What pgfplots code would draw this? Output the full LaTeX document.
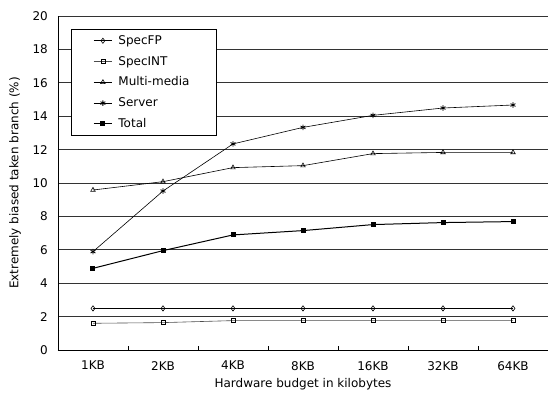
\documentclass[border=0pt]{standalone}
\usepackage{fontspec}
\setmainfont{DejaVu Sans}
\usepackage{pgfplots}
\pgfplotsset{compat=1.18}
\begin{document}
\fontsize{12}{14}\selectfont
\begin{tikzpicture}
\begin{axis}[name=ax, scale only axis, width=490pt, height=334pt,
  xmin=-0.5, xmax=6.5, ymin=0, ymax=20,
  axis x line*=bottom, axis y line*=left,
  axis line style={line width=0.8pt},
  xtick={0.5,1.5,2.5,3.5,4.5,5.5}, xticklabels={},
  x tick style={line width=0.6pt, black},
  major tick length=4pt, tick align=inside,
  extra x ticks={0,1,2,3,4,5,6},
  extra x tick labels={1KB,2KB,4KB,8KB,16KB,32KB,64KB},
  extra x tick style={major tick length=0pt, grid=none, xticklabel style={yshift=-7pt}},
  ytick={0,2,...,20},
  y tick style={draw=none},
  yticklabel style={xshift=-6pt},
  ymajorgrids, grid style={black!80, line width=0.6pt},
  /pgf/number format/assume math mode=true,
  tick label style={font=\fontsize{12}{14}\selectfont},
  xlabel={Hardware budget in kilobytes},
  ylabel={Extremely biased taken branch (\%)},
  every axis x label/.style={at={([yshift=-34pt]axis description cs:0.5,0)}, anchor=center},
  every axis y label/.style={at={([xshift=-43pt]axis description cs:0,0.5)}, anchor=center, rotate=90},
  label style={font=\fontsize{12}{14}\selectfont},
  legend style={at={([xshift=13pt,yshift=-13pt]axis description cs:0,1)}, anchor=north west,
    draw=black, line width=0.8pt, fill=white, inner xsep=22pt, inner ysep=4pt,
    row sep=6pt, column sep=4pt, font=\fontsize{12}{14}\selectfont},
  legend cell align=left,
  legend image code/.code={\draw[#1] (0pt,0pt) -- (18pt,0pt);
    \draw[mark repeat=2, mark phase=2, #1] plot coordinates {(0pt,0pt)(9pt,0pt)(18pt,0pt)};},
  every axis plot/.append style={line width=0.6pt, black},
]
\addplot[mark=diamond, mark size=2.6pt, mark options={fill=white, line width=0.6pt}]
  coordinates {(0,2.49)(1,2.49)(2,2.49)(3,2.49)(4,2.49)(5,2.49)(6,2.49)};
\addlegendentry{\makebox[74pt][l]{SpecFP}}
\addplot[color=black!70, mark=square, mark size=2pt, mark options={fill=white, black, line width=0.6pt}]
  coordinates {(0,1.60)(1,1.64)(2,1.76)(3,1.76)(4,1.76)(5,1.76)(6,1.76)};
\addlegendentry{\makebox[74pt][l]{SpecINT}}
\addplot[mark=triangle, mark size=2.6pt, mark options={fill=white, line width=0.6pt}]
  coordinates {(0,9.58)(1,10.08)(2,10.92)(3,11.04)(4,11.76)(5,11.83)(6,11.83)};
\addlegendentry{\makebox[74pt][l]{Multi-media}}
\addplot[mark=asterisk, mark size=2.8pt, mark options={line width=0.8pt}]
  coordinates {(0,5.89)(1,9.52)(2,12.34)(3,13.33)(4,14.05)(5,14.49)(6,14.67)};
\addlegendentry{\makebox[74pt][l]{Server}}
\addplot[line width=1pt, mark=square*, mark size=2pt]
  coordinates {(0,4.89)(1,5.95)(2,6.89)(3,7.15)(4,7.51)(5,7.63)(6,7.69)};
\addlegendentry{\makebox[74pt][l]{Total}}
\end{axis}
\pgfresetboundingbox
\path[use as bounding box] ([shift={(-58pt,-43pt)}]ax.south west) rectangle ([shift={(0pt,16pt)}]ax.north east);
\end{tikzpicture}
\end{document}
